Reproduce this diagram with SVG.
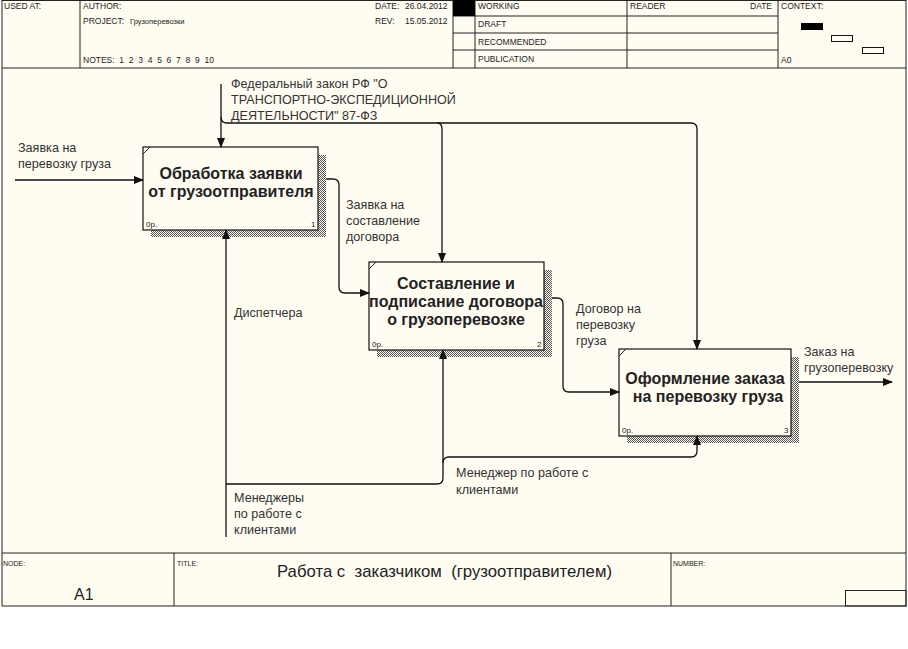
<svg xmlns="http://www.w3.org/2000/svg" width="908" height="649" viewBox="0 0 908 649">
<defs>
<style>
.f{fill:none;stroke:#222;stroke-width:1}
.h{font-family:"Liberation Sans",Arial,sans-serif;font-size:8.5px;fill:#222;white-space:pre}
.t{font-family:"Liberation Sans",Arial,sans-serif;font-size:12.6px;fill:#333}
.b{font-family:"Liberation Sans",Arial,sans-serif;font-size:16px;font-weight:bold;fill:#222;text-anchor:middle}
.s{font-family:"Liberation Sans",Arial,sans-serif;font-size:8px;fill:#222}
.box{fill:#fffcf2;stroke:#111;stroke-width:1.2}
.sh{fill:url(#hatch)}
.c{fill:none;stroke:#111;stroke-width:1.3}
</style>
<pattern id="hatch" width="2" height="2" patternUnits="userSpaceOnUse">
<rect width="2" height="2" fill="#fffcf2"/>
<rect width="1" height="1" fill="#555"/>
<rect x="1" y="1" width="1" height="1" fill="#555"/>
</pattern>
<marker id="ar" markerWidth="10" markerHeight="8" refX="9" refY="4" orient="auto" markerUnits="userSpaceOnUse">
<path d="M0,0 L10,4 L0,8 Z" fill="#111"/>
</marker>
</defs>
<rect x="0" y="0" width="908" height="649" fill="#ffffff"/>
<rect x="2" y="0.5" width="904" height="605.5" fill="#fffcf2" stroke="#222"/>
<g id="header">
<line class="f" x1="2" y1="68" x2="906" y2="68"/>
<line class="f" x1="80" y1="0" x2="80" y2="68"/>
<line class="f" x1="453" y1="0" x2="453" y2="68"/>
<line class="f" x1="475" y1="0" x2="475" y2="68"/>
<line class="f" x1="627" y1="0" x2="627" y2="68"/>
<line class="f" x1="778" y1="0" x2="778" y2="68"/>
<line class="f" x1="453" y1="16" x2="778" y2="16"/>
<line class="f" x1="453" y1="33" x2="778" y2="33"/>
<line class="f" x1="453" y1="50" x2="778" y2="50"/>
<rect x="453" y="0" width="22" height="16" fill="#000"/>
<text class="h" x="4" y="9">USED AT:</text>
<text class="h" x="83" y="9">AUTHOR:</text>
<text class="h" x="83" y="24">PROJECT:</text>
<text class="h" x="130" y="24" style="font-size:7.5px">Грузоперевозки</text>
<text class="h" x="83" y="63">NOTES:  1  2  3  4  5  6  7  8  9  10</text>
<text class="h" x="375" y="9">DATE:</text>
<text class="h" x="405" y="9">26.04.2012</text>
<text class="h" x="375" y="24">REV:</text>
<text class="h" x="405" y="24">15.05.2012</text>
<text class="h" x="478" y="9">WORKING</text>
<text class="h" x="478" y="27">DRAFT</text>
<text class="h" x="478" y="45">RECOMMENDED</text>
<text class="h" x="478" y="62">PUBLICATION</text>
<text class="h" x="630" y="9">READER</text>
<text class="h" x="750" y="9">DATE</text>
<text class="h" x="781" y="9">CONTEXT:</text>
<text class="h" x="781" y="63">A0</text>
<rect x="801" y="23" width="22" height="7" fill="#000"/>
<rect x="831.5" y="35.5" width="21" height="6" fill="none" stroke="#111"/>
<rect x="862.5" y="47.5" width="21" height="6" fill="none" stroke="#111"/>
</g>
<g id="footer">
<line class="f" x1="2" y1="553" x2="906" y2="553"/>
<line class="f" x1="174" y1="553" x2="174" y2="606"/>
<line class="f" x1="671" y1="553" x2="671" y2="606"/>
<rect x="845.5" y="590.5" width="60.5" height="15.5" fill="none" stroke="#222"/>
<text class="s" x="3" y="566" style="font-size:7px">NODE:</text>
<text class="s" x="177" y="566" style="font-size:7px">TITLE:</text>
<text class="s" x="673" y="566" style="font-size:7px">NUMBER:</text>
<text x="74" y="600" style="font-family:'Liberation Sans',Arial,sans-serif;font-size:16px;fill:#222">A1</text>
<text x="277" y="577" textLength="335" lengthAdjust="spacingAndGlyphs" style="font-family:'Liberation Sans',Arial,sans-serif;font-size:17px;fill:#222;white-space:pre">Работа с  заказчиком  (грузоотправителем)</text>
</g>
<g id="node1">
<rect class="sh" x="318" y="155" width="8" height="82"/>
<rect class="sh" x="151" y="230" width="175" height="7"/>
<rect class="box" x="143" y="147" width="175" height="83"/>
<line class="f" x1="143" y1="154" x2="150" y2="147"/>
<text class="b" x="231" y="179">Обработка заявки</text>
<text class="b" x="231" y="197">от грузоотправителя</text>
<text class="s" x="146" y="227">0р.</text>
<text class="s" x="311" y="227">1</text>
</g>
<g id="node2">
<rect class="sh" x="544" y="270" width="8" height="87"/>
<rect class="sh" x="377" y="350" width="175" height="7"/>
<rect class="box" x="369" y="262" width="175" height="88"/>
<line class="f" x1="369" y1="269" x2="376" y2="262"/>
<text class="b" x="456" y="289">Составление и</text>
<text class="b" x="456" y="307">подписание договора</text>
<text class="b" x="456" y="325">о грузоперевозке</text>
<text class="s" x="372" y="347">0р.</text>
<text class="s" x="537" y="347">2</text>
</g>
<g id="node3">
<rect class="sh" x="791" y="357" width="8" height="86"/>
<rect class="sh" x="627" y="436" width="172" height="7"/>
<rect class="box" x="619" y="349" width="172" height="87"/>
<line class="f" x1="619" y1="356" x2="626" y2="349"/>
<text class="b" x="705" y="384">Оформление заказа</text>
<text class="b" x="708" y="402">на перевозку груза</text>
<text class="s" x="622" y="433">0р.</text>
<text class="s" x="784" y="433">3</text>
</g>
<g id="connectors">
<path class="c" d="M15,180 H143" marker-end="url(#ar)"/>
<path class="c" d="M221,84 V147" marker-end="url(#ar)"/>
<path class="c" d="M221,117 Q221,123 227,123 H691 Q697,123 697,129 V349" marker-end="url(#ar)"/>
<path class="c" d="M437,123 Q442,123 442,129 V262" marker-end="url(#ar)"/>
<path class="c" d="M326,179 H333 Q339,179 339,185 V287 Q339,293 345,293 H369" marker-end="url(#ar)"/>
<path class="c" d="M552,298 H557 Q563,298 563,304 V386 Q563,392 569,392 H619" marker-end="url(#ar)"/>
<path class="c" d="M799,382 H892" marker-end="url(#ar)"/>
<path class="c" d="M226,537 V230" marker-end="url(#ar)"/>
<path class="c" d="M226,484 H437 Q443,484 443,478 V350" marker-end="url(#ar)"/>
<path class="c" d="M443,463 Q443,457 449,457 H691 Q697,457 697,451 V436" marker-end="url(#ar)"/>
</g>
<g id="labels">
<text class="t" x="18" y="152">Заявка на</text>
<text class="t" x="18" y="168">перевозку груза</text>
<text class="t" x="231" y="88">Федеральный закон РФ "О</text>
<text class="t" x="231" y="104">ТРАНСПОРТНО-ЭКСПЕДИЦИОННОЙ</text>
<text class="t" x="231" y="120">ДЕЯТЕЛЬНОСТИ" 87-ФЗ</text>
<text class="t" x="346" y="209">Заявка на</text>
<text class="t" x="346" y="225">составление</text>
<text class="t" x="346" y="241">договора</text>
<text class="t" x="576" y="313">Договор на</text>
<text class="t" x="576" y="329">перевозку</text>
<text class="t" x="576" y="345">груза</text>
<text class="t" x="804" y="356">Заказ на</text>
<text class="t" x="804" y="372">грузоперевозку</text>
<text class="t" x="234" y="317">Диспетчера</text>
<text class="t" x="234" y="502">Менеджеры</text>
<text class="t" x="234" y="518">по работе с</text>
<text class="t" x="234" y="534">клиентами</text>
<text class="t" x="456" y="477">Менеджер по работе с</text>
<text class="t" x="456" y="494">клиентами</text>
</g>
</svg>
